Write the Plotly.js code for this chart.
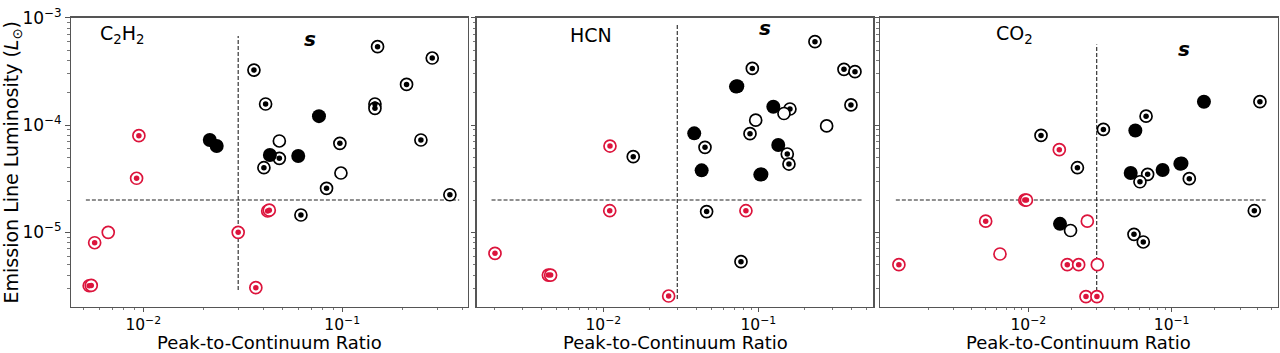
<!DOCTYPE html>
<html><head><meta charset="utf-8">
<script src="https://cdn.plot.ly/plotly-3.0.1.min.js"></script>
<style>body{margin:0;padding:0;background:#fff}#chart{width:1280px;height:353px}</style>
</head><body><div id="chart"></div>
<script>
// ---- data (bd: black ring+dot, bf: black filled, bo: black open, rd: red ring+dot, ro: red open)
const c2h2_x    = [0.0360,0.1505,0.2833,0.2105,0.0412,0.146,0.146,0.2485,0.0973,0.0483,0.0404,0.0834,0.3475,0.062,
                   0.0216,0.0234,0.0764,0.0433,0.0601,
                   0.0483,0.0985,
                   0.00951,0.00926,0.0057,0.030,0.0368,0.0422,0.0430,0.00535,0.00548,
                   0.00667];
const c2h2_y    = [3.25e-4,5.37e-4,4.21e-4,2.39e-4,1.57e-4,1.57e-4,1.43e-4,7.25e-5,6.75e-5,4.89e-5,4.0e-5,2.57e-5,2.24e-5,1.45e-5,
                   7.25e-5,6.37e-5,1.21e-4,5.25e-5,5.14e-5,
                   7.1e-5,3.57e-5,
                   7.95e-5,3.19e-5,8.0e-6,1.0e-5,3.05e-6,1.58e-5,1.61e-5,3.18e-6,3.2e-6,
                   1.0e-5];
const c2h2_kind = ['bd','bd','bd','bd','bd','bd','bd','bd','bd','bd','bd','bd','bd','bd',
                   'bf','bf','bf','bf','bf',
                   'bo','bo',
                   'rd','rd','rd','rd','rd','rd','rd','rd','rd',
                   'ro'];

const hcn_x    = [0.232,0.0915,0.357,0.4205,0.160,0.396,0.0884,0.0453,0.0156,0.1538,0.1577,0.105,0.0464,0.0773,
                  0.0718,0.0732,0.125,0.0386,0.1345,0.0431,0.103,
                  0.0962,0.1464,0.276,
                  0.01104,0.011,0.0832,0.0020,0.00442,0.00457,0.0264];
const hcn_y    = [5.98e-4,3.37e-4,3.30e-4,3.14e-4,1.41e-4,1.54e-4,8.3e-5,6.2e-5,5.07e-5,5.37e-5,4.33e-5,3.47e-5,1.56e-5,5.33e-6,
                  2.28e-4,2.30e-4,1.48e-4,8.36e-5,6.52e-5,3.78e-5,3.45e-5,
                  1.11e-4,1.28e-4,9.8e-5,
                  6.37e-5,1.59e-5,1.59e-5,6.37e-6,4.0e-6,4.0e-6,2.55e-6];
const hcn_kind = ['bd','bd','bd','bd','bd','bd','bd','bd','bd','bd','bd','bd','bd','bd',
                  'bf','bf','bf','bf','bf','bf','bf',
                  'bo','bo','bo',
                  'rd','rd','rd','rd','rd','rd','rd'];

const co2_x    = [0.413,0.0663,0.0334,0.01226,0.022,0.1174,0.068,0.0601,0.1328,0.3774,0.0546,0.0634,
                  0.168,0.0558,0.0518,0.0865,0.01663,0.115,
                  0.0197,
                  0.01645,0.00945,0.0097,0.00504,0.00125,0.0187,0.02245,0.02525,0.0301,
                  0.0258,0.00634,0.0303];
const co2_y    = [1.65e-4,1.21e-4,9.1e-5,8.0e-5,4.0e-5,4.39e-5,3.47e-5,2.96e-5,3.16e-5,1.59e-5,9.58e-6,8.13e-6,
                  1.65e-4,8.9e-5,3.57e-5,3.81e-5,1.2e-5,4.35e-5,
                  1.04e-5,
                  5.89e-5,2.0e-5,2.0e-5,1.27e-5,5.0e-6,5.0e-6,5.0e-6,2.52e-6,2.52e-6,
                  1.27e-5,6.28e-6,5.0e-6];
const co2_kind = ['bd','bd','bd','bd','bd','bd','bd','bd','bd','bd','bd','bd',
                  'bf','bf','bf','bf','bf','bf',
                  'bo',
                  'rd','rd','rd','rd','rd','rd','rd','rd','rd',
                  'ro','ro','ro'];

// threshold lines (vertical at ratio 0.03, horizontal at 2e-5)
const c2h2_vline_x = [0.03,0.03],   c2h2_vline_y = [2.9e-6,6.74e-4];
const c2h2_hline_x = [0.00515,0.387], hline_y = [2e-5,2e-5];
const hcn_vline_x = [0.03,0.03],    hcn_vline_y = [2.39e-6,8.73e-4];
const hcn_hline_x = [0.0019,0.469];
const co2_vline_x = [0.03,0.03],    co2_vline_y = [2.5e-6,5.64e-4];
const co2_hline_x = [0.00119,0.453];

const panel_labels = ['C<sub>2</sub>H<sub>2</sub>','HCN','CO<sub>2</sub>'];
const label_x = [0.0079,0.0083,0.00807], label_y = [6.9e-4,6.9e-4,6.9e-4];
const s_x = [0.0688,0.110,0.1226], s_y = [6.28e-4,7.96e-4,5.1e-4];
const x_title = 'Peak-to-Continuum Ratio';
const y_title = 'Emission Line Luminosity (<i>L</i><sub>\u2299</sub>)';

const x_ranges = [[-2.363,-0.368],[-2.817,-0.258],[-3.035,-0.26]];
const y_range = [-5.693,-3];

// ---- build
const RED = '#DC143C', BLK = '#000000';
const traces = [];
function pick(xs, ys, ks, k){const X=[],Y=[];ks.forEach((kk,i)=>{if(kk===k){X.push(xs[i]);Y.push(ys[i]);}});return [X,Y];}
const panels = [[c2h2_x,c2h2_y,c2h2_kind,c2h2_vline_x,c2h2_vline_y,c2h2_hline_x],
                [hcn_x,hcn_y,hcn_kind,hcn_vline_x,hcn_vline_y,hcn_hline_x],
                [co2_x,co2_y,co2_kind,co2_vline_x,co2_vline_y,co2_hline_x]];
panels.forEach((p,i)=>{
  const xa = i===0?'x':'x'+(i+1), ya = i===0?'y':'y'+(i+1);
  const dash = {color:'#222',width:1.1,dash:'4px,2px'};
  traces.push({x:p[3],y:p[4],mode:'lines',line:dash,xaxis:xa,yaxis:ya,hoverinfo:'skip'});
  traces.push({x:p[5],y:hline_y,mode:'lines',line:dash,xaxis:xa,yaxis:ya,hoverinfo:'skip'});
  const order = ['bd','rd','bo','ro','bf'];
  order.forEach(k=>{
    const [X,Y] = pick(p[0],p[1],p[2],k);
    if(!X.length) return;
    const col = k[0]==='r'?RED:BLK;
    if(k[1]==='f'){
      traces.push({x:X,y:Y,mode:'markers',xaxis:xa,yaxis:ya,marker:{symbol:'circle',size:14,color:col,line:{width:0}}});
    } else {
      traces.push({x:X,y:Y,mode:'markers',xaxis:xa,yaxis:ya,marker:{symbol:'circle',size:12,color:'rgba(255,255,255,1)',line:{color:col,width:1.7}}});
      if(k[1]==='d') traces.push({x:X,y:Y,mode:'markers',xaxis:xa,yaxis:ya,marker:{symbol:'circle',size:5.5,color:col,line:{width:0}}});
    }
  });
});

function minorVals(lo,hi){const v=[];for(let d=lo;d<=hi;d++){for(let m=2;m<=9;m++)v.push(m*Math.pow(10,d));}return v;}
const FONT = 'DejaVu Sans, Arial, sans-serif';
const AXC = '#555';
const supT = e => '10<sup>\u2212'+e+'</sup>';
const xdomains = [[71/1280,468/1280],[476.7/1280,873.3/1280],[880/1280,1277.7/1280]];
function xaxis(i){
  return {type:'log',range:x_ranges[i],domain:xdomains[i],
    anchor:i===0?'y':'y'+(i+1),showgrid:false,zeroline:false,showline:true,mirror:true,linecolor:AXC,linewidth:1.4,
    ticks:'outside',ticklen:3.5,tickwidth:1,tickcolor:AXC,tickmode:'array',
    tickvals:[1e-2,1e-1],ticktext:[supT(2),supT(1)],tickfont:{family:FONT,size:15.5,color:'#000'},
    minor:{ticks:'outside',ticklen:2.2,tickwidth:0.8,tickcolor:AXC,tickmode:'array',tickvals:minorVals(-4,0),showgrid:false}};
}
function yaxis(i){
  return {type:'log',range:y_range,domain:[46.3/353,335.3/353],anchor:i===0?'x':'x'+(i+1),
    showgrid:false,zeroline:false,showline:true,mirror:true,linecolor:AXC,linewidth:1.4,
    ticks:'outside',ticklen:4.5,tickwidth:1,tickcolor:AXC,tickmode:'array',
    tickvals:[1e-5,1e-4,1e-3],ticktext:[supT(5),supT(4),supT(3)],showticklabels:i===0,
    tickfont:{family:FONT,size:17,color:'#000'},
    minor:{ticks:'outside',ticklen:2.5,tickwidth:0.8,tickcolor:AXC,tickmode:'array',tickvals:minorVals(-6,-3),showgrid:false},
    title:i===0?{text:y_title,font:{family:FONT,size:19,color:'#000'},standoff:2}:{text:''}};
}
const annotations = [];
for(let i=0;i<3;i++){
  const xa = i===0?'x':'x'+(i+1), ya = i===0?'y':'y'+(i+1);
  annotations.push({x:Math.log10(label_x[i]),y:Math.log10(label_y[i]),xref:xa,yref:ya,text:panel_labels[i],showarrow:false,
    font:{family:FONT,size:19,color:'#000'},xanchor:'center',yanchor:'middle'});
  annotations.push({x:Math.log10(s_x[i]),y:Math.log10(s_y[i]),xref:xa,yref:ya,text:'<b><i>s</i></b>',showarrow:false,
    font:{family:FONT,size:20,color:'#000'},xanchor:'center',yanchor:'middle'});
  annotations.push({x:(xdomains[i][0]+xdomains[i][1])/2,y:0,xref:'paper',yref:'paper',text:x_title,showarrow:false,
    font:{family:FONT,size:18,color:'#000'},xanchor:'center',yanchor:'bottom',yshift:-2});
}
const layout = {width:1280,height:353,margin:{l:0,r:0,t:0,b:0},showlegend:false,paper_bgcolor:'#fff',plot_bgcolor:'#fff',
  font:{family:FONT},annotations:annotations,
  xaxis:xaxis(0),xaxis2:xaxis(1),xaxis3:xaxis(2),yaxis:yaxis(0),yaxis2:yaxis(1),yaxis3:yaxis(2)};
Plotly.newPlot('chart',traces,layout,{staticPlot:true,displayModeBar:false});
</script></body></html>
